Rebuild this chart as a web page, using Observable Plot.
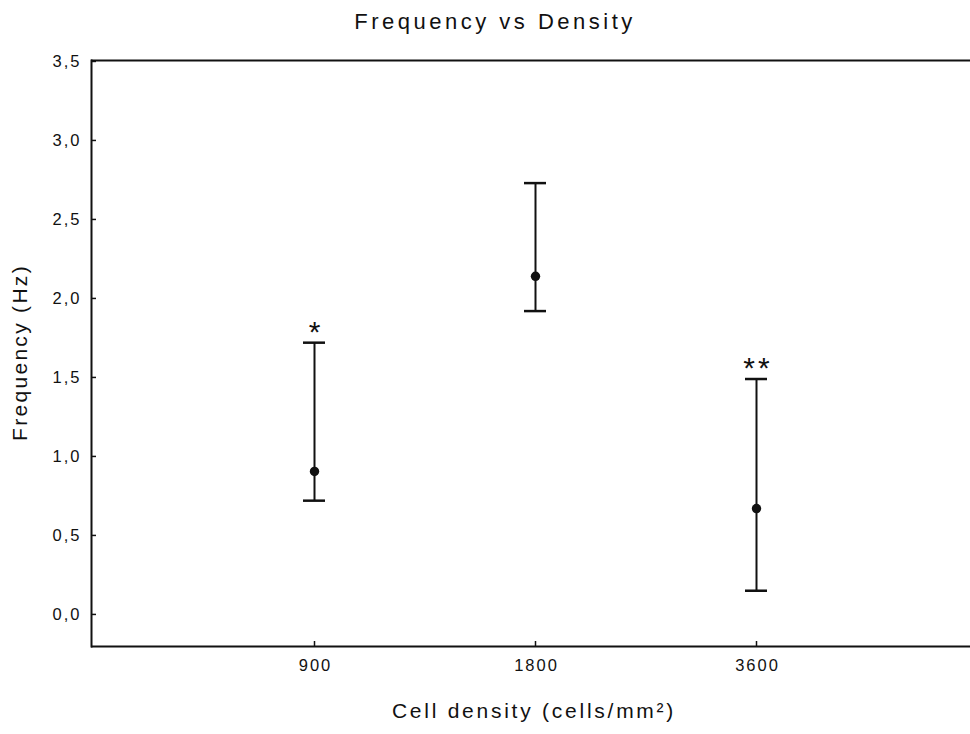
<!DOCTYPE html>
<html>
<head>
<meta charset="utf-8">
<script src="https://cdn.jsdelivr.net/npm/d3@7"></script>
<script src="https://cdn.jsdelivr.net/npm/@observablehq/plot@0.6"></script>
<style>
  body { margin: 0; background: #fff; }
  #wrap { position: relative; width: 970px; height: 734px; font-family: "Liberation Sans", Arial, sans-serif; }
  #title { position: absolute; left: 0; width: 970px; top: 11px; text-align: center; padding-left: 20px; box-sizing: border-box;
           font-size: 22px; line-height: 1; color: #111; letter-spacing: 3.5px; }
  #chart { position: absolute; left: 0; top: 50px; }
</style>
</head>
<body>
<div id="wrap">
  <div id="title">Frequency vs Density</div>
  <div id="chart"></div>
</div>
<script>
// Data
const categories = ["900", "1800", "3600"];
const means = [0.905, 2.14, 0.67];
const lower = [0.72, 1.92, 0.15];
const upper = [1.72, 2.73, 1.49];
const significance = ["*", "", "**"];
const yTicks = [0, 0.5, 1.0, 1.5, 2.0, 2.5, 3.0, 3.5];
const yTickLabels = ["0,0", "0,5", "1,0", "1,5", "2,0", "2,5", "3,0", "3,5"];
const yDomain = [-0.203, 3.506];

const rows = categories.map((c, i) => ({cat: c, mean: means[i], lo: lower[i], hi: upper[i], sig: significance[i]}));

const ink = "#111";
const plot = Plot.plot({
  width: 970,
  height: 684,
  marginTop: 10,
  marginBottom: 88,
  marginLeft: 91,
  marginRight: 0,
  style: {fontFamily: "'Liberation Sans', Arial, sans-serif", color: ink, background: "#fff"},
  x: {type: "band", domain: categories, range: [91, 978], paddingInner: 0.9008, paddingOuter: 0.9504},
  y: {domain: yDomain},
  marks: [
    Plot.ruleY(yDomain, {stroke: ink, strokeWidth: 2}),
    Plot.frame({anchor: "left", stroke: ink, strokeWidth: 2}),
    // inward tick marks only (labels drawn below as text marks)
    Plot.axisY({ticks: yTicks, tickSize: -5, tickFormat: () => "", label: null, stroke: ink, strokeWidth: 1.5}),
    Plot.axisX({tickSize: -5, tickFormat: () => "", label: null, stroke: ink, strokeWidth: 1.5}),
    // tick labels
    Plot.text(yTicks, {y: d => d, text: (d, i) => yTickLabels[i], frameAnchor: "left", textAnchor: "end", dx: -10,
                       fontSize: 16.5, fill: ink}),
    Plot.text(categories, {x: d => d, text: d => d, frameAnchor: "bottom", lineAnchor: "top", dy: 13, dx: 1,
                           fontSize: 16.5, fill: ink}),
    // error bars
    Plot.ruleX(rows, {x: "cat", y1: "lo", y2: "hi", stroke: ink, strokeWidth: 2}),
    Plot.tickY(rows, {x: "cat", y: "lo", stroke: ink, strokeWidth: 2.5}),
    Plot.tickY(rows, {x: "cat", y: "hi", stroke: ink, strokeWidth: 2.5}),
    Plot.dot(rows, {x: "cat", y: "mean", r: 4.7, fill: ink, stroke: null}),
    Plot.text(rows, {x: "cat", y: "hi", text: "sig", fontSize: 30, dy: -1, dx: 1.5, lineAnchor: "bottom", fill: ink}),
    // axis titles
    Plot.text(["Frequency (Hz)"], {frameAnchor: "left", textAnchor: "middle", dx: -71, dy: -1, rotate: -90, fontSize: 21, fill: ink}),
    Plot.text(["Cell density (cells/mm\u00B2)"], {frameAnchor: "bottom", textAnchor: "middle", dy: 71, dx: 3, fontSize: 21, fill: ink})
  ]
});
// letter spacing to mimic the wide bitmap font of the original
const textGroups = d3.select(plot).selectAll("g[aria-label='text']").nodes();
const spacing = ["2px", "2px", "3px", "2.3px", "2.75px"];
textGroups.forEach((g, i) => d3.select(g).selectAll("text").style("letter-spacing", spacing[i] || "3px"));
document.getElementById("chart").appendChild(plot);
</script>
</body>
</html>
